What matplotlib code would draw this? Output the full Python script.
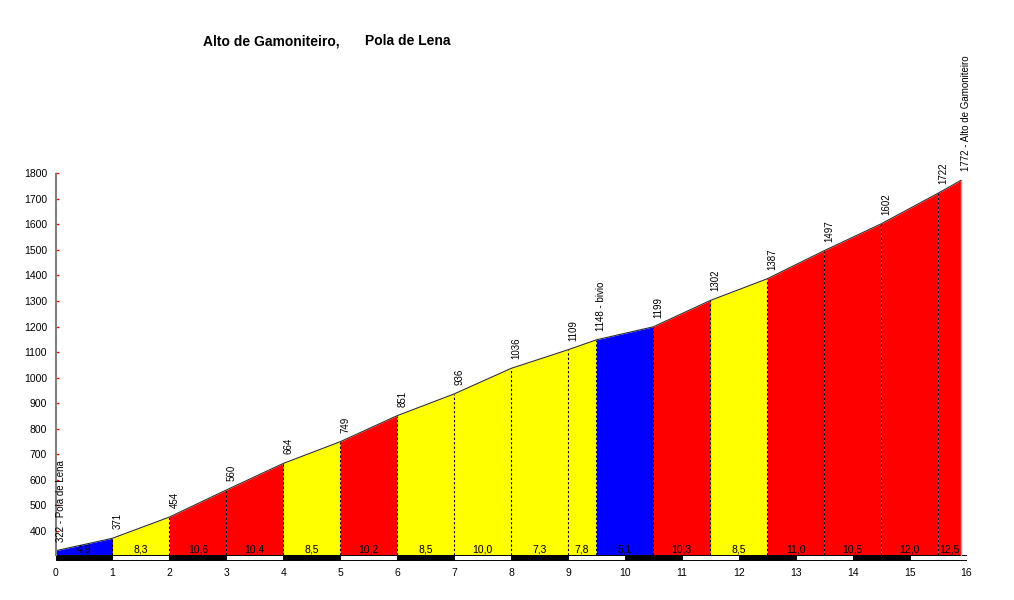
import matplotlib
matplotlib.use('Agg')
import matplotlib.pyplot as plt

plt.rcParams['font.family'] = ['Liberation Sans', 'DejaVu Sans']

# Perfil: distancia (km) y altitud (m)
dist = [0, 1, 2, 3, 4, 5, 6, 7, 8, 9, 9.5, 10.5, 11.5, 12.5, 13.5, 14.5, 15.5, 15.9]
alt = [322, 371, 454, 560, 664, 749, 851, 936, 1036, 1109, 1148, 1199, 1302, 1387, 1497, 1602, 1722, 1772]
# pendiente media de cada tramo (%)
grades = [4.9, 8.3, 10.6, 10.4, 8.5, 10.2, 8.5, 10.0, 7.3, 7.8, 5.1, 10.3, 8.5, 11.0, 10.5, 12.0, 12.5]
# etiquetas de los puntos
point_labels = [str(a) for a in alt]
point_labels[0] = '322 - Pola de Lena'
point_labels[10] = '1148 - bivio'
point_labels[-1] = '1772 - Alto de Gamoniteiro'

km_ticks = list(range(0, 17))
y_ticks = list(range(400, 1801, 100))

base = 305
bar_low = 285


def grade_color(g):
    if g < 6:
        return '#0000ff'
    if g <= 10:
        return '#ffff00'
    return '#ff0000'


fig = plt.figure(figsize=(10.14, 6), dpi=100)
ax = fig.add_axes([55.5 / 1014, 39 / 600, (966.5 - 55.5) / 1014, (561 - 173.3) / 600])

# tramos coloreados
for i, g in enumerate(grades):
    x0, x1 = dist[i], dist[i + 1]
    ax.fill_between([x0, x1], [base, base], [alt[i], alt[i + 1]],
                    color=grade_color(g), linewidth=0)
    ax.text((x0 + x1) / 2, base + 1, f'{g:.1f}'.replace('.', ','),
            ha='center', va='bottom', fontsize=7.5)

# separaciones punteadas
for x, a in zip(dist[1:-1], alt[1:-1]):
    ax.plot([x, x], [base, a], color='black', linestyle=(0, (2, 2)), linewidth=0.8)
ax.plot([dist[-1], dist[-1]], [base, alt[-1]], color='#ff8080', linewidth=1)

# linea del perfil
ax.plot(dist, alt, color='#303030', linewidth=0.8)

# etiquetas de altitud
for x, a, lab in zip(dist, alt, point_labels):
    ax.annotate(lab, (x, a), xytext=(5, 9), textcoords='offset pixels',
                rotation=90, ha='center', va='bottom', fontsize=7,
                annotation_clip=False)

# barra de kilometros
bar_colors = ['black' if k % 2 == 0 else 'white' for k in km_ticks[:-1]]
ax.bar([k + 0.5 for k in km_ticks[:-1]], base - bar_low, bottom=bar_low, width=1,
       color=bar_colors, edgecolor='black', linewidth=0.7)

ax.set_xlim(0, 16)
ax.set_ylim(282, 1800)
ax.set_xticks(km_ticks)
ax.set_yticks(y_ticks)
ax.tick_params(axis='x', length=0, labelsize=7.5, pad=5)
ax.tick_params(axis='y', direction='in', length=2.5, width=1, color='red',
               labelsize=7.5, pad=6)

for s in ['top', 'right', 'bottom']:
    ax.spines[s].set_visible(False)
ax.spines['left'].set_color('#808080')
ax.spines['left'].set_linestyle((0, (1, 1)))
ax.spines['left'].set_linewidth(1.5)
ax.spines['left'].set_bounds(base, 1800)

fig.text(203 / 1014, 1 - 45 / 600, 'Alto de Gamoniteiro,', fontsize=10,
         fontweight='bold', ha='left', va='baseline')
fig.text(365 / 1014, 1 - 45 / 600, 'Pola de Lena', fontsize=10,
         fontweight='bold', ha='left', va='baseline')

fig.savefig('out.png', dpi=100, facecolor='white')
